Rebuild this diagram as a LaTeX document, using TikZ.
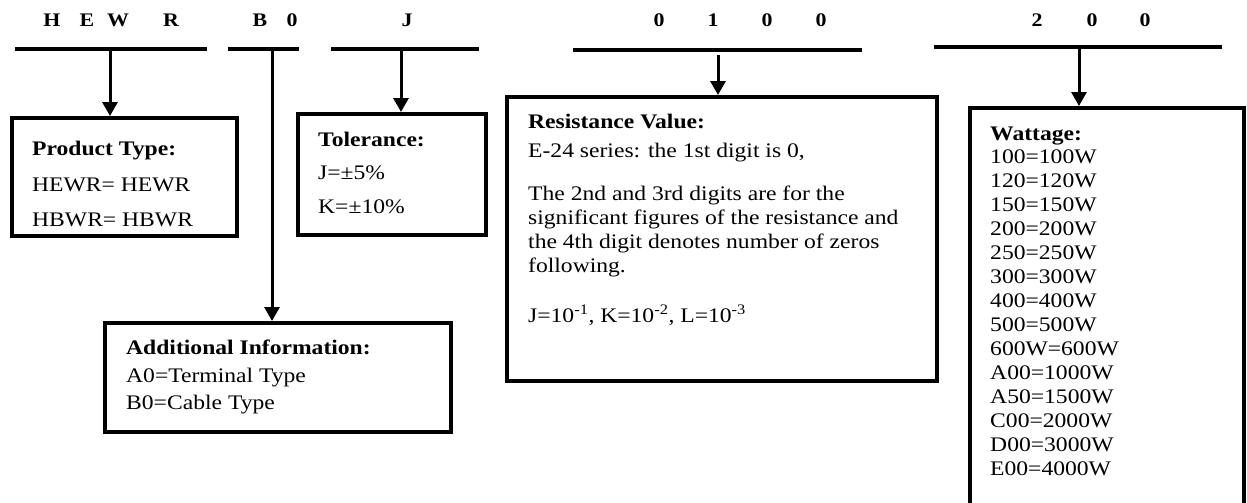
\documentclass[tikz,border=0pt]{standalone}
\usepackage{fontspec}
\setmainfont{Liberation Serif}[FakeStretch=1.14]
\usetikzlibrary{arrows.meta}
\tikzset{
  box/.style={draw, line width=4pt, anchor=north west, inner sep=0pt, rectangle},
  bar/.style={line width=4pt},
  arr/.style={line width=3pt, -{Triangle[width=15pt,length=14pt]}},
  hdr/.style={anchor=base, inner sep=0pt, font=\fontsize{19.2}{22}\selectfont\bfseries},
  txt/.style={anchor=base west, inner sep=0pt, font=\fontsize{20.7}{24}\selectfont},
  ttl/.style={anchor=base west, inner sep=0pt, font=\fontsize{20.7}{24}\selectfont\bfseries},
}
\begin{document}
\begin{tikzpicture}[x=1pt,y=-1pt]
\useasboundingbox (0,0) rectangle (1247,503);
\clip (0,0) rectangle (1247,503);
% header letters
\foreach \x/\l [count=\i] in {52/H,87/E,118/W,171/R,260/B,292/0,407/J,659/0,713/1,767/0,821/0,1037/2,1092/0,1145/0}
  \node[hdr] (h\i) at (\x,27) {\l};
% bars
\coordinate (b1l) at (15,49);  \coordinate (b1r) at (207,49);
\coordinate (b2l) at (228,49); \coordinate (b2r) at (299,49);
\coordinate (b3l) at (331,49); \coordinate (b3r) at (479,49);
\coordinate (b4l) at (573,50); \coordinate (b4r) at (862,50);
\coordinate (b5l) at (934,47); \coordinate (b5r) at (1222,47);
\foreach \i in {1,...,5} \draw[bar] (b\i l) -- (b\i r);
% boxes
\node[box, minimum width=225pt, minimum height=118pt] (prod) at (10,116) {};
\node[box, minimum width=188pt, minimum height=121pt] (tol) at (296,112) {};
\node[box, minimum width=346pt, minimum height=109pt] (add) at (103,321) {};
\node[box, minimum width=430pt, minimum height=284pt] (res) at (505,95) {};
\node[box, minimum width=274pt, minimum height=420pt] (wat) at (968,106) {};
% arrows
\coordinate (a1) at (110,49);
\coordinate (a2) at (272,49);
\coordinate (a3) at (401,49);
\coordinate (a4) at (718,55);
\coordinate (a5) at (1079,47);
\draw[arr] (a1) -- (a1 |- prod.north);
\draw[arr] (a2) -- (a2 |- add.north);
\draw[arr] (a3) -- (a3 |- tol.north);
\draw[arr] (a4) -- (a4 |- res.north);
\draw[arr] (a5) -- (a5 |- wat.north);
% product type
\node[ttl] (p0) at (32,155) {Product Type:};
\node[txt] (p1) at (32,191) {HEWR= HEWR};
\node[txt] (p2) at (32,226) {HBWR= HBWR};
% tolerance
\node[ttl] (t0) at (318,146) {Tolerance:};
\node[txt] (t1) at (318,179) {J=±5\%};
\node[txt] (t2) at (318,213) {K=±10\%};
% additional
\node[ttl] (d0) at (126,354) {Additional Information:};
\node[txt] (d1) at (126,382) {A0=Terminal Type};
\node[txt] (d2) at (126,409) {B0=Cable Type};
% resistance
\node[ttl] (r0) at (528,128) {Resistance Value:};
\node[txt] (r1) at (528,157) {E-24 series: the 1st digit is 0,};
\node[txt] (r2) at (528,200) {The 2nd and 3rd digits are for the};
\node[txt] (r3) at (528,224) {significant figures of the resistance and};
\node[txt] (r4) at (528,248) {the 4th digit denotes number of zeros};
\node[txt] (r5) at (528,272) {following.};
\node[txt] (r6) at (528,322) {J=10\textsuperscript{-1}, K=10\textsuperscript{-2}, L=10\textsuperscript{-3}};
% wattage
\node[ttl] (w0) at (990,140) {Wattage:};
\foreach \s [count=\i from 0] in {100=100W,120=120W,150=150W,200=200W,250=250W,300=300W,400=400W,500=500W,600W=600W,A00=1000W,A50=1500W,C00=2000W,D00=3000W,E00=4000W}
  \node[txt] (w\i) at (990,{163+24*\i}) {\s};
\end{tikzpicture}
\end{document}
